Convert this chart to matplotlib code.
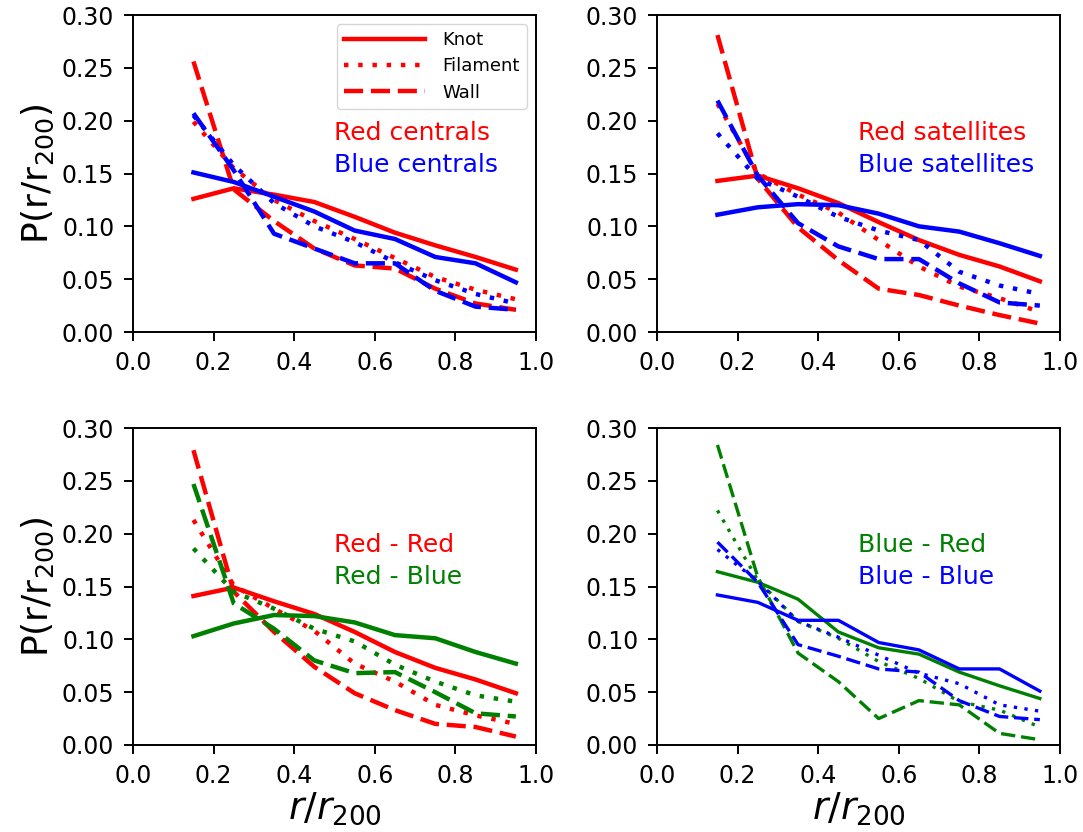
import matplotlib
matplotlib.use("Agg")
import matplotlib.pyplot as plt

r_bins = [0.15, 0.25, 0.35, 0.45, 0.55, 0.65, 0.75, 0.85, 0.95]

# Panel 1: centrals
red_cen_knot = [0.126, 0.136, 0.130, 0.123, 0.109, 0.094, 0.082, 0.071, 0.059]
red_cen_fil = [0.199, 0.155, 0.125, 0.105, 0.088, 0.070, 0.052, 0.040, 0.031]
red_cen_wall = [0.256, 0.135, 0.105, 0.079, 0.063, 0.060, 0.041, 0.027, 0.021]
blue_cen_knot = [0.151, 0.142, 0.128, 0.114, 0.096, 0.088, 0.071, 0.065, 0.047]
blue_cen_fil = [0.205, 0.158, 0.122, 0.100, 0.085, 0.066, 0.049, 0.036, 0.027]
blue_cen_wall = [0.207, 0.153, 0.093, 0.079, 0.065, 0.065, 0.039, 0.024, 0.021]

# Panel 2: satellites
red_sat_knot = [0.143, 0.148, 0.136, 0.122, 0.104, 0.087, 0.073, 0.062, 0.048]
red_sat_fil = [0.216, 0.150, 0.130, 0.113, 0.087, 0.062, 0.043, 0.032, 0.019]
red_sat_wall = [0.281, 0.145, 0.099, 0.068, 0.041, 0.035, 0.025, 0.016, 0.008]
blue_sat_knot = [0.111, 0.118, 0.121, 0.120, 0.112, 0.100, 0.095, 0.084, 0.072]
blue_sat_fil = [0.188, 0.145, 0.128, 0.109, 0.096, 0.087, 0.057, 0.044, 0.036]
blue_sat_wall = [0.219, 0.148, 0.103, 0.081, 0.069, 0.069, 0.046, 0.028, 0.025]

# Panel 3: Red - Red / Red - Blue
rr_knot = [0.141, 0.149, 0.136, 0.124, 0.107, 0.088, 0.073, 0.062, 0.049]
rr_fil = [0.213, 0.151, 0.129, 0.108, 0.077, 0.060, 0.038, 0.028, 0.020]
rr_wall = [0.279, 0.145, 0.107, 0.074, 0.049, 0.033, 0.020, 0.017, 0.008]
rb_knot = [0.103, 0.115, 0.123, 0.122, 0.116, 0.104, 0.101, 0.088, 0.077]
rb_fil = [0.186, 0.145, 0.129, 0.110, 0.098, 0.076, 0.060, 0.047, 0.041]
rb_wall = [0.247, 0.134, 0.110, 0.080, 0.068, 0.069, 0.050, 0.030, 0.027]

# Panel 4: Blue - Red / Blue - Blue
br_knot = [0.164, 0.154, 0.138, 0.107, 0.092, 0.086, 0.069, 0.056, 0.044]
br_fil = [0.222, 0.156, 0.117, 0.101, 0.079, 0.063, 0.041, 0.033, 0.017]
br_wall = [0.284, 0.159, 0.087, 0.060, 0.025, 0.042, 0.038, 0.011, 0.005]
bb_knot = [0.142, 0.135, 0.118, 0.118, 0.097, 0.090, 0.072, 0.072, 0.051]
bb_fil = [0.185, 0.155, 0.117, 0.102, 0.085, 0.068, 0.058, 0.038, 0.032]
bb_wall = [0.192, 0.154, 0.095, 0.084, 0.072, 0.069, 0.042, 0.027, 0.024]

env_labels = ["Knot", "Filament", "Wall"]
yticks = [0.00, 0.05, 0.10, 0.15, 0.20, 0.25, 0.30]
xticks = [0.0, 0.2, 0.4, 0.6, 0.8, 1.0]

fig = plt.figure(figsize=(10.83, 8.32), dpi=100)
W, H = 1083, 832
def ax_at(x0, x1, y0, y1):
    return fig.add_axes([x0 / W, 1 - y1 / H, (x1 - x0) / W, (y1 - y0) / H])

ax1 = ax_at(133, 536, 15, 332)
ax2 = ax_at(657, 1060, 15, 332)
ax3 = ax_at(133, 536, 428, 745)
ax4 = ax_at(657, 1060, 428, 745)

styles = ["-", (0, (1.0, 2.2)), (0, (4.3, 1.75))]

def draw(ax, series, colors, lw):
    for s, c in zip(series, colors):
        for vals, ls in zip(s, styles):
            ax.plot(r_bins, vals, color=c, ls=ls, lw=lw)

draw(ax1, [[red_cen_knot, red_cen_fil, red_cen_wall],
           [blue_cen_knot, blue_cen_fil, blue_cen_wall]], ["r", "b"], 3.2)
draw(ax2, [[red_sat_knot, red_sat_fil, red_sat_wall],
           [blue_sat_knot, blue_sat_fil, blue_sat_wall]], ["r", "b"], 3.2)
draw(ax3, [[rr_knot, rr_fil, rr_wall],
           [rb_knot, rb_fil, rb_wall]], ["r", "g"], 3.2)
draw(ax4, [[br_knot, br_fil, br_wall],
           [bb_knot, bb_fil, bb_wall]], ["g", "b"], 2.4)

# legend in first panel
handles = [plt.Line2D([], [], color="r", ls=ls, lw=3.2) for ls in styles]
ax1.legend(handles, env_labels, loc="upper right", fontsize=13,
           handlelength=4.5, handletextpad=0.95, labelspacing=0.45,
           frameon=True, borderaxespad=0.5)

txt = dict(fontsize=18, ha="left", va="center")
ax1.text(0.5, 0.188, "Red centrals", color="r", **txt)
ax1.text(0.5, 0.158, "Blue centrals", color="b", **txt)
ax2.text(0.5, 0.188, "Red satellites", color="r", **txt)
ax2.text(0.5, 0.158, "Blue satellites", color="b", **txt)
ax3.text(0.5, 0.189, "Red - Red", color="r", **txt)
ax3.text(0.5, 0.159, "Red - Blue", color="g", **txt)
ax4.text(0.5, 0.189, "Blue - Red", color="g", **txt)
ax4.text(0.5, 0.159, "Blue - Blue", color="b", **txt)

for ax in (ax1, ax2, ax3, ax4):
    ax.set_xlim(0, 1.0)
    ax.set_ylim(0, 0.30)
    ax.set_xticks(xticks)
    ax.set_yticks(yticks)
    ax.set_xticklabels([f"{v:.1f}" for v in xticks])
    ax.set_yticklabels([f"{v:.2f}" for v in yticks])
    ax.tick_params(labelsize=17, length=6.5, width=1.4, pad=7)
    for sp in ax.spines.values():
        sp.set_linewidth(1.4)

for ax in (ax1, ax3):
    ax.set_ylabel("P(r/r$_{200}$)", fontsize=26, labelpad=4)
for ax in (ax3, ax4):
    ax.set_xlabel("$r/r_{200}$", fontsize=27, labelpad=2)

fig.savefig("out.png", dpi=100)
